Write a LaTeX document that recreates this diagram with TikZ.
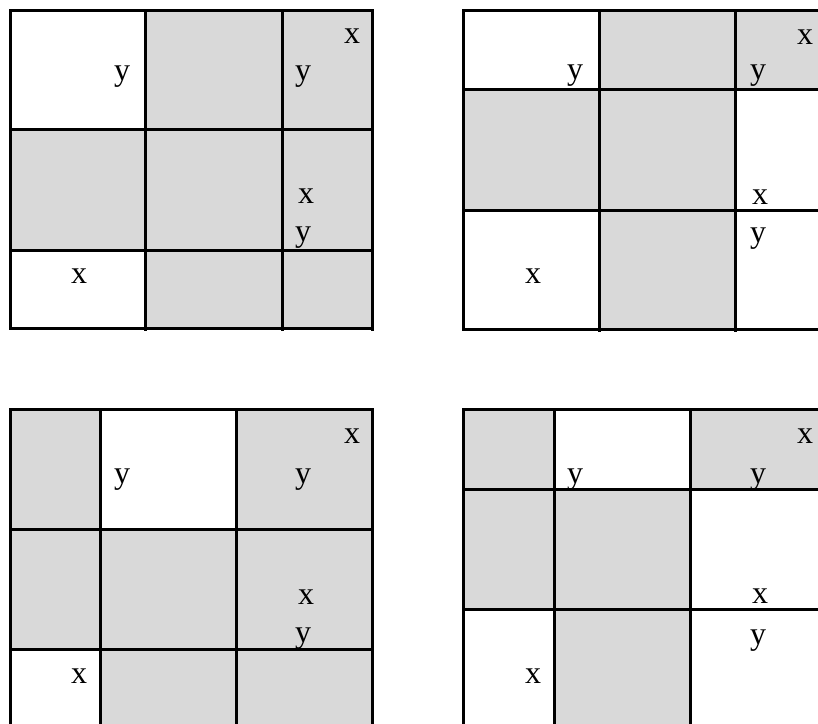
\documentclass[tikz,border=0pt]{standalone}
\usepackage{fontspec}
\setmainfont{Liberation Serif}
\definecolor{cellgray}{RGB}{217,217,217}
\tikzset{
  cell/.style={fill=cellgray},
  gridline/.style={line width=2.25pt, line cap=rect},
  vline/.style={line width=2.25pt},
  lbl/.style={anchor=base, inner sep=0pt, font=\fontsize{24pt}{27pt}\selectfont}
}
\begin{document}
\begin{tikzpicture}[x=0.75pt,y=-0.75pt]
\useasboundingbox (0,0) rectangle (818,724);
% ---------- grid 1 ----------
\fill[cell] (145,11) rectangle (372,130);
\fill[cell] (10,130) rectangle (372,250);
\fill[cell] (145,250) rectangle (372,328);
\foreach \yy in {11,130,250,328} \draw[gridline] (10,\yy) -- (372,\yy);
\draw[vline] (10,11) -- (10,330);
\foreach \xx in {145,282,372} \draw[vline] (\xx,11) -- (\xx,331);
\node[lbl] (a1) at (122,81) {y};
\node[lbl] (a2) at (352,44) {x};
\node[lbl] (a3) at (303,81) {y};
\node[lbl] (a4) at (306,203) {x};
\node[lbl] (a5) at (303,241) {y};
\node[lbl] (a6) at (79,283) {x};
% ---------- grid 2 ----------
\fill[cell] (599,11) rectangle (822,90);
\fill[cell] (463,90) rectangle (735,210);
\fill[cell] (599,210) rectangle (735,329);
\foreach \yy in {11,90,210,329} \draw[gridline] (463,\yy) -- (822,\yy);
\draw[vline] (463,11) -- (463,331);
\foreach \xx in {599,735} \draw[vline] (\xx,11) -- (\xx,332);
\node[lbl] (b1) at (575,80) {y};
\node[lbl] (b2) at (805,45) {x};
\node[lbl] (b3) at (758,80) {y};
\node[lbl] (b4) at (760,204) {x};
\node[lbl] (b5) at (758,242) {y};
\node[lbl] (b6) at (533,283) {x};
% ---------- grid 3 ----------
\fill[cell] (10,409) rectangle (100,529);
\fill[cell] (236,409) rectangle (372,529);
\fill[cell] (10,529) rectangle (372,649);
\fill[cell] (100,649) rectangle (372,730);
\foreach \yy in {409,529,649} \draw[gridline] (10,\yy) -- (372,\yy);
\foreach \xx in {10,100,236,372} \draw[vline] (\xx,409) -- (\xx,730);
\node[lbl] (c1) at (352,443) {x};
\node[lbl] (c2) at (122,483) {y};
\node[lbl] (c3) at (303,483) {y};
\node[lbl] (c4) at (306,604) {x};
\node[lbl] (c5) at (303,642) {y};
\node[lbl] (c6) at (79,683) {x};
% ---------- grid 4 ----------
\fill[cell] (463,409) rectangle (554,489);
\fill[cell] (690,409) rectangle (822,489);
\fill[cell] (463,489) rectangle (690,609);
\fill[cell] (554,609) rectangle (690,730);
\foreach \yy in {409,489,609} \draw[gridline] (463,\yy) -- (822,\yy);
\foreach \xx in {463,554,690} \draw[vline] (\xx,409) -- (\xx,730);
\node[lbl] (d1) at (805,443) {x};
\node[lbl] (d2) at (575,483) {y};
\node[lbl] (d3) at (758,483) {y};
\node[lbl] (d4) at (760,603) {x};
\node[lbl] (d5) at (758,644) {y};
\node[lbl] (d6) at (533,683) {x};
\end{tikzpicture}
\end{document}
